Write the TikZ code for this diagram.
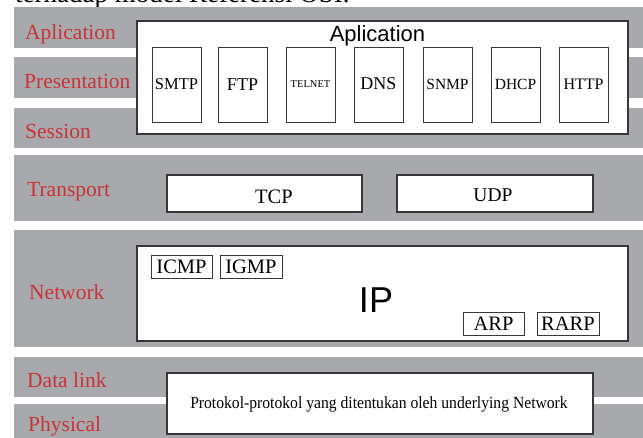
\documentclass[tikz,border=0pt]{standalone}
\usepackage{fontspec}
\setmainfont{Liberation Serif}
\newfontfamily\arialf{Liberation Sans}
\definecolor{bandgray}{RGB}{167,169,172}
\definecolor{labelred}{RGB}{200,52,56}
\definecolor{edgegray}{RGB}{55,55,55}
\newcommand{\fs}[1]{\fontsize{#1}{#1}\selectfont}
\begin{document}
\begin{tikzpicture}[x=1pt,y=-1pt,
  band/.style={fill=bandgray},
  layerlabel/.style={anchor=base west,inner sep=0pt,text=labelred,font=\fs{21.5}},
  bigbox/.style={draw=edgegray,line width=1.4pt,fill=white},
  pbox/.style={draw=edgegray,line width=0.9pt,fill=white,inner sep=0pt,minimum width=49pt,minimum height=75pt},
  sbox/.style={draw=edgegray,line width=0.9pt,fill=white,inner sep=0pt,minimum height=23pt,font=\fs{20.5}},
  txt/.style={inner sep=0pt}]
\clip (0,0) rectangle (643,437);
\fill[white] (0,0) rectangle (643,437);
% partially visible caption at top
\node[txt,anchor=base west,font=\fs{27}] (cap) at (15,2.5) {terhadap model Referensi OSI.};
% layer bands
\fill[band] (14,7) rectangle (650,48);
\fill[band] (14,57) rectangle (650,98);
\fill[band] (14,108) rectangle (650,148);
\fill[band] (14,155) rectangle (650,221);
\fill[band] (14,230) rectangle (650,347);
\fill[band] (14,357) rectangle (650,397);
\fill[band] (14,404) rectangle (650,445);
% layer labels
\node[layerlabel] (lapp) at (25,39.5) {Aplication};
\node[layerlabel] (lpres) at (24,88) {Presentation};
\node[layerlabel] (lses) at (25,138) {Session};
\node[layerlabel] (ltra) at (27,196) {Transport};
\node[layerlabel] (lnet) at (29,299) {Network};
\node[layerlabel] (ldat) at (27,387) {Data link};
\node[layerlabel] (lphy) at (28,431) {Physical};
% application box
\draw[bigbox] (137,21) rectangle (628,134);
\node[txt,anchor=base,font=\arialf\fs{22}] (apptitle) at (377.5,41) {Aplication};
\node[pbox,font=\fs{16.5}] (smtp) at (176.5,84.5) {SMTP};
\node[pbox,font=\fs{18}] (ftp) at (242.5,84.5) {FTP};
\node[pbox,font=\fs{10.5}] (telnet) at (310.5,84.5) {TELNET};
\node[pbox,font=\fs{18}] (dns) at (378.5,84.5) {\raisebox{1.5pt}{DNS}};
\node[pbox,font=\fs{15.5}] (snmp) at (447.5,84.5) {\raisebox{-2pt}{SNMP}};
\node[pbox,font=\fs{15.5}] (dhcp) at (515.5,84.5) {\raisebox{-2pt}{DHCP}};
\node[pbox,font=\fs{16}] (http) at (583.5,84.5) {\raisebox{-1.5pt}{HTTP}};
% transport
\draw[bigbox,line width=1.1pt] (167,175) rectangle (362,212);
\draw[bigbox,line width=1.1pt] (397,175) rectangle (593,212);
\node[txt,anchor=base,font=\fs{20.5}] (tcp) at (274,203) {TCP};
\node[txt,anchor=base,font=\fs{19.5}] (udp) at (493,201) {UDP};
% network
\draw[bigbox] (137,246) rectangle (628,341);
\node[txt,font=\arialf\fs{36}] (ip) at (376,300) {IP};
\node[sbox,minimum width=61pt] (icmp) at (181.5,266.5) {ICMP};
\node[sbox,minimum width=62pt] (igmp) at (251,266.5) {IGMP};
\node[sbox,minimum width=61pt] (arp) at (493.5,323.5) {ARP};
\node[sbox,minimum width=62pt] (rarp) at (568,323.5) {RARP};
% data link / physical
\draw[bigbox,line width=1.1pt] (167,373) rectangle (593,434);
\node[txt,font=\fs{17}] (under) at (379,404) {\scalebox{0.92}[1]{Protokol-protokol yang ditentukan oleh underlying Network}};
\end{tikzpicture}
\end{document}
